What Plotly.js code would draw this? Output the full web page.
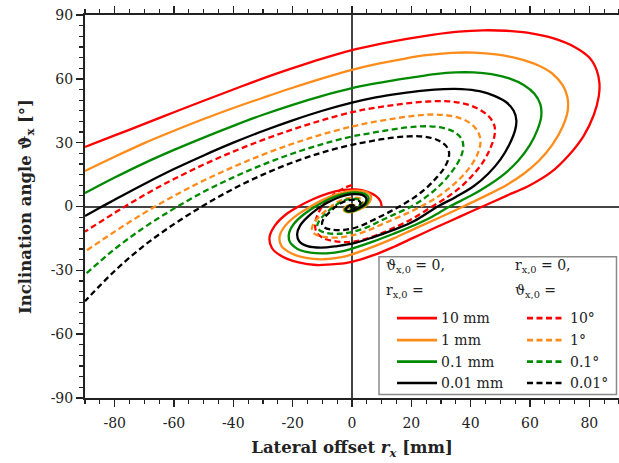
<!DOCTYPE html>
<html>
<head>
<meta charset="utf-8">
<script src="https://cdn.plot.ly/plotly-3.0.1.min.js"></script>
<style>html,body{margin:0;padding:0;background:#fff;}#chart{width:619px;height:463px;}</style>
</head>
<body>
<div id="chart"></div>
<script>
// ---- data ----
const xTickVals = [-80, -60, -40, -20, 0, 20, 40, 60, 80];
const xTickText = ['-80', '-60', '-40', '-20', '0', '20', '40', '60', '80'];
const yTickVals = [-90, -60, -30, 0, 30, 60, 90];
const yTickText = ['-90', '-60', '-30', '0', '30', '60', '90'];

// r_x,0 series (solid), theta_x,0 = 0
const red10mmX = [10, 9.6, 8, 5, 1.5, -3, -8, -13, -18, -22.5, -26, -27.8, -27, -23.5, -18, -12, -5, 0, 7, 14, 21, 28, 36, 44, 52, 60, 67, 73, 78, 81.5, 83.2, 83.4, 82.5, 80, 75, 68, 60, 52, 44, 36, 27, 18, 9, 0, -10, -20, -30, -40, -50, -60, -70, -80, -90];
const red10mmY = [0, 2.5, 5, 7, 8, 7.8, 6.2, 3.5, 0, -4, -9, -14.5, -19.5, -23.5, -26.3, -27.5, -27, -26, -23, -19, -14.5, -10, -5, 0, 5, 10, 16, 24, 33, 43, 52, 58, 64, 70, 75, 79, 81.5, 82.6, 82.8, 82.2, 80.7, 78.7, 76.3, 73.5, 69.5, 65, 60.2, 55, 49.7, 44.3, 38.8, 33.4, 28];

const orange1mmX = [1, 0.8, 0.3, -0.4, -1.2, -2, -2.6, -2.8, -2.5, -1.8, -0.8, 0.3, 1.5, 2.8, 4.35, 5.6, 6.3, 6.3, 5.4, 3.6, 1.2, -1.8, -5.5, -10, -14.5, -19, -22.5, -24.4, -23.8, -20.5, -15.5, -9.5, -3.5, 0, 7, 14, 21, 29, 37.5, 45, 52, 58, 63, 67.5, 71, 72.7, 72.6, 71, 67.5, 62.5, 56, 48.5, 41, 33.5, 25, 17, 8.5, 0, -10, -20, -30, -40, -50, -60, -70, -80, -90];
const orange1mmY = [0, 0.5, 0.8, 0.8, 0.5, -0.1, -0.9, -1.6, -2.2, -2.6, -2.7, -2.5, -1.9, -1.1, 0, 1.5, 3.3, 5.1, 6.4, 7.2, 7.4, 7, 5.6, 3, -0.5, -4.5, -9, -14, -18.5, -22, -24.2, -24.8, -23.8, -22.5, -19, -15, -10.5, -5.5, 0, 5, 10, 15.5, 21.5, 29, 37.5, 45, 51.5, 57, 62.5, 66.5, 69.5, 71.5, 72.3, 72.2, 71.1, 69.3, 67, 64.2, 60.2, 55.8, 51.1, 46.3, 41.1, 35.6, 29.8, 23.4, 16.7];

const green01mmX = [0.1, 0.05, -0.1, -0.25, -0.2, 0, 0.2, 0.435, 0.56, 0.6, 0.45, 0.1, -0.4, -1, -1.6, -2.1, -2.4, -2.2, -1.5, -0.5, 0.7, 1.8, 2.8, 3.8, 4.9, 5.5, 5.5, 4.7, 3, 0.8, -1.8, -5, -9, -13, -16.5, -19.5, -21.2, -21, -18.5, -14, -8.5, -3, 0, 7, 14, 21, 27, 32.9, 40, 46, 51.5, 56, 60, 62.5, 63.8, 63.5, 61.5, 58, 53, 47, 41, 35, 28, 21, 14, 7, 0, -10, -20, -30, -40, -50, -60, -70, -80, -90];
const green01mmY = [0, 0.07, 0.08, -0.05, -0.2, -0.25, -0.18, 0, 0.2, 0.45, 0.62, 0.7, 0.6, 0.25, -0.25, -0.85, -1.5, -2.05, -2.4, -2.45, -2.1, -1.4, -0.7, 0, 1.3, 2.9, 4.5, 5.7, 6.4, 6.6, 6.2, 5, 2.6, -0.6, -4, -8, -12.5, -16.5, -19.8, -21.7, -22, -21, -19.8, -16.5, -12.8, -8.8, -4.8, 0, 5, 10, 15.5, 21.5, 29, 36, 42.5, 48, 53, 57, 60.2, 62.2, 63, 63, 62.2, 60.8, 59.3, 57.6, 55.6, 52, 47.8, 43.1, 37.9, 32.4, 26.6, 20.4, 13.6, 6.3];

const black001mmX = [0.01, -0.02, 0, 0.0435, 0.05, -0.05, -0.2, -0.22, 0, 0.2, 0.38, 0.5, 0.45, 0.1, -0.4, -1, -1.6, -2.1, -2, -1.3, -0.3, 0.9, 2, 3.3, 4.3, 4.8, 4.8, 4, 2.5, 0.5, -2, -5, -8.5, -12, -15, -17.5, -18.5, -17.8, -15, -10.5, -5, 0, 7, 14, 21, 28.9, 35, 41, 46, 50, 53, 55, 55.4, 54.5, 52, 48, 43, 37, 31, 24, 16, 8, 0, -10, -20, -30, -40, -50, -60, -70, -80, -85, -90];
const black001mmY = [0, 0.01, -0.025, 0, 0.06, 0.08, 0, -0.15, -0.22, -0.15, 0, 0.25, 0.5, 0.6, 0.5, 0.2, -0.4, -1.1, -1.7, -2.1, -2.15, -1.7, -0.9, 0, 1.2, 2.6, 4, 5.1, 5.7, 5.8, 5.3, 4, 1.6, -1.5, -5, -9, -13, -16.3, -18.6, -19.3, -18.6, -17.5, -14.5, -11, -6.8, 0, 4.5, 9.5, 15.5, 22, 29, 36, 40.5, 45, 49, 52, 54.2, 55.2, 55.2, 54.5, 53.1, 51.3, 48.8, 45, 40.5, 35.5, 30, 24, 17.6, 10.6, 3.2, -0.6, -4.5];

// theta_x,0 series (dashed), r_x,0 = 0
const red10degX = [0, -2.5, -5, -7.5, -9.8, -11.5, -12.4, -12, -9.8, -6, -1, 4, 10, 16, 21.5, 27, 32, 36.5, 40.5, 44, 46.5, 48, 48, 46, 42, 37, 31.5, 25, 18, 12, 6, 0, -10, -20, -30, -40, -50, -60, -70, -80, -90];
const red10degY = [10, 8.8, 6.8, 4, 0.5, -3.5, -8, -12, -14.8, -16.3, -16.7, -15.5, -12.5, -8.8, -4.8, 0, 4.3, 9, 14.5, 20.5, 27, 33, 38, 42.5, 46.3, 48.6, 49.5, 49.3, 48.4, 47.3, 46, 44.3, 40.6, 36.2, 31.3, 25.8, 19.7, 12.9, 5.4, -3, -11.8];

const orange1degX = [0, -0.5, -0.9, -1.2, -1, -0.3, 0.6, 1.6, 2.7, 3.5, 3.8, 3.3, 2, 0.2, -2, -4.7, -7.5, -10.5, -12.7, -13.5, -12.5, -9.5, -5, 0, 5.5, 11, 17, 23.3, 28.5, 33, 37, 40.5, 42.7, 43.3, 42.3, 39.7, 35.8, 31, 25.5, 19.5, 13, 6.5, 0, -10, -20, -30, -40, -50, -60, -70, -80, -90];
const orange1degY = [1, 0.6, 0, -0.8, -1.4, -1.65, -1.4, -0.8, 0, 1, 2.2, 3.3, 4, 4.2, 3.7, 2.2, -0.5, -4, -7.5, -10.5, -13, -14.3, -14.6, -13.6, -11.2, -7.8, -4.2, 0, 4.2, 8.8, 14, 20, 26, 31, 35.5, 39.3, 41.8, 43, 43.2, 42.4, 41.1, 39.5, 37.6, 33.9, 29.5, 24.4, 18.6, 12.2, 5, -3, -11.8, -21.2];

const green01degX = [0, -0.1, -0.03, 0.15, 0.27, 0.36, 0.2, -0.2, -0.7, -1.1, -1.15, -0.65, 0.2, 1.2, 2.35, 3, 3.3, 2.9, 1.7, 0.1, -1.8, -4.1, -6.5, -9, -11, -11.7, -10.8, -8.3, -4.3, 0, 5, 9.5, 14.5, 20, 24.5, 28.5, 32, 35, 37, 37.5, 36.7, 34.2, 30.6, 26.2, 21.5, 16.5, 11, 5.5, 0, -10, -20, -30, -40, -50, -60, -70, -80, -90];
const green01degY = [0.1, 0, -0.16, -0.1, 0, 0.2, 0.38, 0.35, 0, -0.65, -1.1, -1.3, -1.15, -0.65, 0, 0.9, 1.9, 2.9, 3.5, 3.6, 3.2, 1.9, -0.4, -3.5, -6.5, -9.2, -11.3, -12.5, -12.8, -12, -9.8, -6.8, -3.6, 0, 4, 8.5, 13.5, 19, 24.5, 28.8, 32.3, 35.2, 37, 37.7, 37.5, 36.8, 35.6, 34.3, 32.9, 29.3, 24.9, 19.7, 13.7, 6.9, -1, -9.8, -20, -32];

const black001degX = [0, -0.01, 0, 0.027, 0.03, -0.05, -0.1, -0.06, 0.08, 0.235, 0.3, 0.17, -0.15, -0.6, -0.95, -1, -0.55, 0.2, 1.05, 2.04, 2.6, 2.85, 2.5, 1.5, 0.1, -1.6, -3.6, -5.7, -7.8, -9.5, -10.1, -9.3, -7.1, -3.7, 0, 4, 8, 12, 16, 20.5, 24.5, 28, 30.8, 32.4, 32.7, 31.7, 29.5, 26.5, 22.7, 18.5, 14, 9.5, 4.8, 0, -10, -20, -30, -40, -50, -60, -70, -80, -90];
const black001degY = [0.01, 0, -0.015, 0, 0.03, 0.03, -0.06, -0.13, -0.1, 0, 0.17, 0.32, 0.3, 0, -0.55, -0.95, -1.12, -1, -0.55, 0, 0.8, 1.65, 2.5, 3, 3.1, 2.8, 1.6, -0.3, -3, -5.6, -8, -9.8, -10.8, -11.1, -10.4, -8.5, -5.8, -3, 0, 3.8, 8, 12.8, 17.5, 22, 25.5, 28.5, 30.8, 32.3, 33, 32.9, 32.4, 31.5, 30.3, 29, 25.4, 20.7, 15, 8.3, 0.5, -8.3, -18.3, -30.3, -44.5];

const legendHeaderLeft = ['\u03D1<sub>x,0</sub> = 0,', 'r<sub>x,0</sub> ='];
const legendHeaderRight = ['r<sub>x,0</sub> = 0,', '\u03D1<sub>x,0</sub> ='];
const legendSolidLabels = ['10 mm', '1 mm', '0.1 mm', '0.01 mm'];
const legendDashedLabels = ['10\u00B0', '1\u00B0', '0.1\u00B0', '0.01\u00B0'];

// ---- styling ----
const colors = ['#ff0000', '#ff8c1a', '#008a00', '#000000'];
const solidSeries = [[red10mmX, red10mmY], [orange1mmX, orange1mmY], [green01mmX, green01mmY], [black001mmX, black001mmY]];
const dashedSeries = [[red10degX, red10degY], [orange1degX, orange1degY], [green01degX, green01degY], [black001degX, black001degY]];
const DASH = '6px,3.5px';
const LW = 2.3;

const traces = [];
dashedSeries.forEach((s, i) => traces.push({
  x: s[0], y: s[1], type: 'scatter', mode: 'lines', showlegend: false, hoverinfo: 'skip',
  line: {color: colors[i], width: LW, dash: DASH, shape: 'spline', smoothing: 1}
}));
solidSeries.forEach((s, i) => traces.push({
  x: s[0], y: s[1], type: 'scatter', mode: 'lines', showlegend: false, hoverinfo: 'skip',
  line: {color: colors[i], width: LW, shape: 'spline', smoothing: 1}
}));

// plot-area geometry (pixels) for the hand-made legend
const W = 619, H = 463, ML = 85, MR = 0, MT = 14.5, MB = 65;
const PW = W - ML - MR, PH = H - MT - MB;
const px = v => (v - ML) / PW;
const py = v => (H - MB - v) / PH;

const FONT = 'DejaVu Serif, Liberation Serif, serif';
const shapes = [{
  type: 'rect', xref: 'paper', yref: 'paper', layer: 'above',
  x0: px(379), x1: px(616.5), y0: py(394.5), y1: py(256.5),
  fillcolor: '#ffffff', line: {color: '#8a8a8a', width: 1.5}
}];
const annotations = [];
const rowY = [318, 340, 361.5, 383];
legendHeaderLeft.forEach((t, i) => annotations.push({
  xref: 'paper', yref: 'paper', x: px(384), y: py([266, 291][i]), xanchor: 'left', yanchor: 'middle',
  text: t, showarrow: false, font: {family: FONT, size: 14, color: '#222'}
}));
legendHeaderRight.forEach((t, i) => annotations.push({
  xref: 'paper', yref: 'paper', x: px(513), y: py([266, 291][i]), xanchor: 'left', yanchor: 'middle',
  text: t, showarrow: false, font: {family: FONT, size: 14, color: '#222'}
}));
legendSolidLabels.forEach((t, i) => {
  shapes.push({type: 'line', xref: 'paper', yref: 'paper', layer: 'above',
    x0: px(397), x1: px(437), y0: py(rowY[i]), y1: py(rowY[i]),
    line: {color: colors[i], width: LW + 0.4}});
  annotations.push({xref: 'paper', yref: 'paper', x: px(439), y: py(rowY[i]), xanchor: 'left', yanchor: 'middle',
    text: t, showarrow: false, font: {family: FONT, size: 14, color: '#222'}});
});
legendDashedLabels.forEach((t, i) => {
  shapes.push({type: 'line', xref: 'paper', yref: 'paper', layer: 'above',
    x0: px(527), x1: px(565), y0: py(rowY[i]), y1: py(rowY[i]),
    line: {color: colors[i], width: LW + 0.4, dash: DASH}});
  annotations.push({xref: 'paper', yref: 'paper', x: px(568), y: py(rowY[i]), xanchor: 'left', yanchor: 'middle',
    text: t, showarrow: false, font: {family: FONT, size: 14, color: '#222'}});
});

const axisCommon = {
  showgrid: false, showline: true, linecolor: '#222', linewidth: 2,
  ticks: 'outside', ticklen: 7, tickwidth: 1.5, tickcolor: '#222',
  zeroline: true, zerolinecolor: '#444', zerolinewidth: 2,
  tickfont: {family: FONT, size: 14, color: '#222'},
  minor: {dtick: 5, ticks: 'outside', ticklen: 4, tickwidth: 1.2, tickcolor: '#222'},
  fixedrange: true
};

const layout = {
  width: W, height: H,
  margin: {l: ML, r: MR, t: MT, b: MB, pad: 0},
  paper_bgcolor: '#ffffff', plot_bgcolor: '#ffffff',
  showlegend: false,
  font: {family: FONT, color: '#222'},
  xaxis: Object.assign({}, axisCommon, {
    range: [-90, 90], tickmode: 'array', tickvals: xTickVals, ticktext: xTickText, mirror: 'ticks',
    ticklabelstandoff: 4,
    title: {text: 'Lateral offset <i>r</i><sub><i>x</i></sub> [mm]', font: {family: FONT, size: 16.5, weight: 'bold', color: '#222'}, standoff: 12}
  }),
  yaxis: Object.assign({}, axisCommon, {
    range: [-90, 90], tickmode: 'array', tickvals: yTickVals, ticktext: yTickText, mirror: false,
    title: {text: 'Inclination angle \u03D1<sub>x</sub> [\u00B0]', font: {family: FONT, size: 16.5, weight: 'bold', color: '#222'}, standoff: 15}
  }),
  shapes: shapes,
  annotations: annotations
};

Plotly.newPlot('chart', traces, layout, {displayModeBar: false, staticPlot: true});
</script>
</body>
</html>
